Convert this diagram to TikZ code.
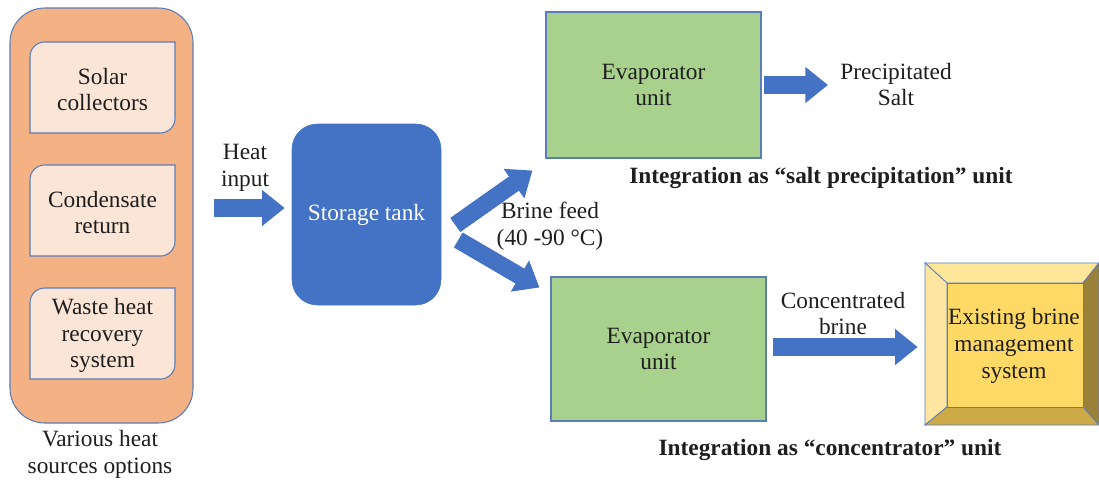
\documentclass[tikz,border=0pt]{standalone}
\usepackage{fontspec}
\setmainfont{Liberation Serif}
\usepackage{tikz}
\usetikzlibrary{arrows.meta,positioning,calc}
\definecolor{heatorange}{HTML}{F4B183}
\definecolor{heatlight}{HTML}{FBE5D6}
\definecolor{tankblue}{HTML}{4472C4}
\definecolor{edgeblue}{HTML}{5B7DB8}
\definecolor{evapgreen}{HTML}{A9D18E}
\definecolor{goldface}{HTML}{FFD966}
\definecolor{goldtop}{HTML}{FFE699}
\definecolor{goldleft}{HTML}{FFE6A0}
\definecolor{goldbottom}{HTML}{CDAA48}
\definecolor{golddark}{HTML}{9A8038}
\definecolor{inktext}{HTML}{1E1E1E}
\newdimen\unitpx \unitpx=0.75pt

\begin{document}
\begin{tikzpicture}[x=0.75pt,y=-0.75pt,
    font=\fontsize{17.5}{20}\selectfont,
    every node/.style={align=center,inner sep=0pt,text=inktext},
    srcbox/.style={draw=edgeblue,line width=0.8pt,fill=heatorange,rounded corners=26pt},
    optbox/.style={draw=edgeblue,line width=0.8pt,fill=heatlight},
    tankbox/.style={fill=tankblue,draw=tankblue,rounded corners=19pt,text=white},
    evapbox/.style={draw=edgeblue,line width=0.8pt,fill=evapgreen},
    bevel/.style={draw=edgeblue,line width=0.6pt},
    flow/.style={tankblue,line width=13pt,-{Triangle[length=17pt,width=26pt]}}]

  \useasboundingbox (0,0) rectangle (1099,482);

  % Heat sources
  \node[srcbox,minimum width=183\unitpx,minimum height=415\unitpx] (src) at (101.5,215.5) {};
  \foreach \yc/\txt [count=\i] in {87.5/{Solar\\collectors},210.5/{Condensate\\return},333.5/{Waste heat\\recovery\\system}}{
    \draw[optbox] (30,\yc+45.5) [rounded corners=11pt] -- (30,\yc-45.5) [sharp corners] -- (175,\yc-45.5)
      [rounded corners=11pt] -- (175,\yc+45.5) [sharp corners] -- cycle;
    \node (opt\i) at (102.5,\yc+2) {\txt};
  }
  \node (srclbl) at (100,454.5) {Various heat\\sources options};

  % Storage and evaporators
  \node (heatlbl) at (245,168) {Heat\\input};
  \node[tankbox,minimum width=149\unitpx,minimum height=181\unitpx] (tank) at (366.5,214.5) {Storage tank};
  \node[evapbox,minimum width=215\unitpx,minimum height=146\unitpx] (evapA) at (653.5,85) {Evaporator\\unit};
  \node[evapbox,minimum width=215\unitpx,minimum height=144\unitpx] (evapB) at (658.5,349) {Evaporator\\unit};
  \node (feed) at (550,226.5) {Brine feed\\(40 -90 °C)};
  \node (salt) at (896,84.5) {Precipitated\\Salt};
  \node (conc) at (843,313.5) {Concentrated\\brine};
  \node[font=\fontsize{17.5}{20}\selectfont\bfseries] (intA) at (821,178) {Integration as “salt precipitation” unit};
  \node[font=\fontsize{17.5}{20}\selectfont\bfseries] (intB) at (830,450) {Integration as “concentrator” unit};

  % Existing brine management (bevel)
  \begin{scope}[bevel]
    \filldraw[fill=goldtop] (925,263) -- (1099,263) -- (1083,283) -- (947,283) -- cycle;
    \filldraw[fill=goldleft] (925,263) -- (947,283) -- (947,407) -- (925,425) -- cycle;
    \filldraw[fill=golddark] (1099,263) -- (1099,425) -- (1083,407) -- (1083,283) -- cycle;
    \filldraw[fill=goldbottom] (925,425) -- (1099,425) -- (1083,407) -- (947,407) -- cycle;
    \filldraw[fill=goldface] (947,283) rectangle (1083,407);
  \end{scope}
  \node[minimum width=174\unitpx,minimum height=162\unitpx] (brine) at (1014,346) {Existing brine\\management\\system};

  % Flows
  \draw[flow] ($(src.east)+(20,-7.5)$) -- ($(tank.west)+(-7,-6.5)$);
  \draw[flow] ($(tank.east)+(14,10.5)$) -- ($(evapA.south west)+(-13,12)$);
  \draw[flow] ($(tank.east)+(17,25.5)$) -- ($(evapB.north west)+(-11,11)$);
  \draw[flow] ($(evapA.east)+(2,0)$) -- ($(evapA.east -| salt.west)+(-12,0)$);
  \draw[flow] ($(evapB.east)+(6,-2)$) -- ($(brine.west)+(-9,1)$);
\end{tikzpicture}
\end{document}
